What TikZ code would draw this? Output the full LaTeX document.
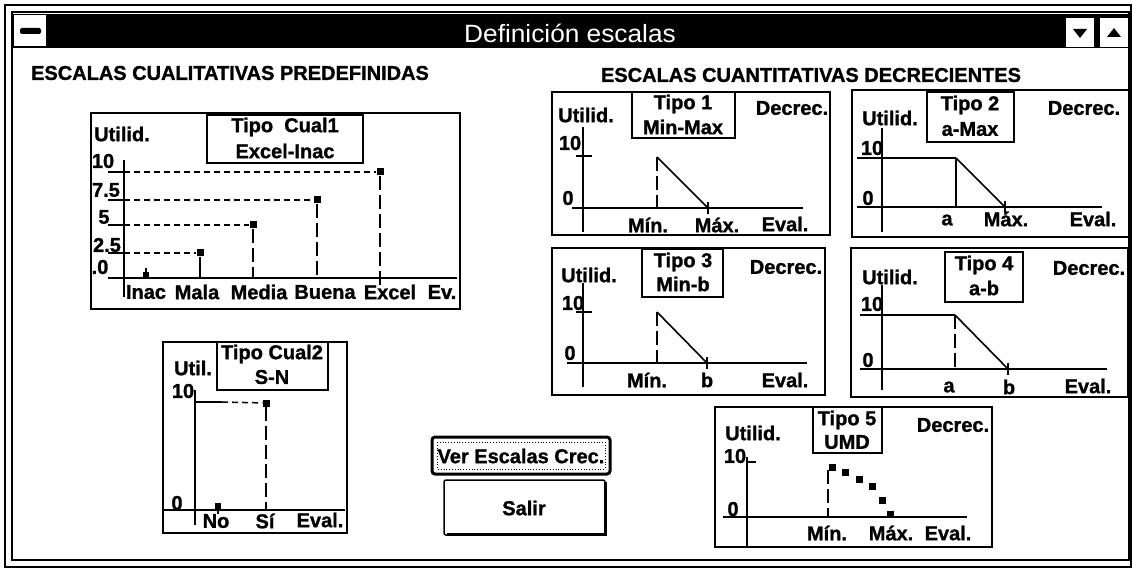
\documentclass[tikz,border=0pt]{standalone}
\usepackage{fontspec}
\newfontfamily\pf{Liberation Sans}[UprightFont=* Bold, FakeBold=1.2]
\newfontfamily\tf{Liberation Sans}[FakeStretch=1.05]
\begin{document}
\begin{tikzpicture}[x=1pt,y=-1pt,
  lbl/.style={font=\pf\fontsize{20}{22}\selectfont, inner sep=0pt, anchor=center},
  frame/.style={draw, line width=1.6pt},
  ax/.style={line width=1.6pt},
  dsh/.style={line width=1.5pt, dash pattern=on 6pt off 4pt},
  ldsh/.style={line width=1.5pt, dash pattern=on 14pt off 5pt},
  sq/.style={fill, rectangle, minimum size=7pt, inner sep=0pt}]
\useasboundingbox (0,0) rectangle (1132,569);
\fill[white] (0,0) rectangle (1132,569);
% window frame
\draw[line width=1.8pt] (5,5) rectangle (1131,567);
\draw[line width=1.2pt] (12,12) rectangle (1129,560);
\fill[black] (12,14) rectangle (1129,48);
\draw[fill=white, line width=1pt] (13,15) rectangle (46,47);
\fill[black, rounded corners=2pt] (20,28) rectangle (41,34);
\draw[fill=white, line width=1pt] (1065,18) rectangle (1094,48);
\fill[black] (1073,29) -- (1087,29) -- (1080,38) -- cycle;
\draw[fill=white, line width=1pt] (1099,18) rectangle (1128,48);
\fill[black] (1107,37) -- (1121,37) -- (1114,28) -- cycle;
\node[font=\tf\fontsize{25}{27}\selectfont, text=white, inner sep=0pt] (title) at (570,33) {Definición escalas};
% headers
\node[lbl] (h1) at (230,73) {ESCALAS CUALITATIVAS PREDEFINIDAS};
\node[lbl] (h2) at (811,75) {ESCALAS CUANTITATIVAS DECRECIENTES};

% ===== Cual1 panel =====
\draw[frame] (91,113) rectangle (460,309);
\draw[frame] (207,115) rectangle (363,163);
\node[lbl] (c1t1) at (285,127) {Tipo\ \ Cual1};
\node[lbl] (c1t2) at (285,151) {Excel-Inac};
\node[lbl] (c1u) at (122,134) {Utilid.};
\draw[ax] (124,160) -- (124,297);
\draw[ax] (108,278) -- (457,278);
\node[lbl] (c1y10) at (103,161) {10};
\node[lbl] (c1y75) at (106,190) {7.5};
\node[lbl] (c1y5) at (104,217) {5};
\node[lbl] (c1y25) at (107,245) {2.5};
\node[lbl] (c1y0) at (100,267) {.0};
\node[sq, minimum size=6pt] (pInac) at (146,275) {};
\node[sq] (pMala) at (200,253) {};
\node[sq] (pMedia) at (253,225) {};
\node[sq] (pBuena) at (317,200) {};
\node[sq] (pExcel) at (380,172) {};
\draw[ax] (108,172) -- (124,172); \draw[dsh] (124,172) -- (pExcel);
\draw[ax] (108,200) -- (124,200); \draw[dsh] (124,200) -- (pBuena);
\draw[ax] (108,225) -- (124,225); \draw[dsh] (124,225) -- (pMedia);
\draw[ax] (108,253) -- (124,253); \draw[dsh] (124,253) -- (pMala);
\draw[ax] (146,268) -- (pInac);
\draw[ax] (pMala) -- (200,278);
\draw[ldsh] (pMedia) -- (253,278);
\draw[ldsh] (pBuena) -- (317,278);
\draw[ldsh] (pExcel) -- (380,285);
\node[lbl] (lInac) at (146,292) {Inac};
\node[lbl] (lMala) at (197,292) {Mala};
\node[lbl] (lMedia) at (259,292) {Media};
\node[lbl] (lBuena) at (325,292) {Buena};
\node[lbl] (lExcel) at (390,292) {Excel};
\node[lbl] (lEv) at (442,292) {Ev.};

% ===== Cual2 panel =====
\draw[frame] (163,342) rectangle (347,533);
\draw[frame] (217,342) rectangle (328,390);
\node[lbl] (c2t1) at (272,354) {Tipo Cual2};
\node[lbl] (c2t2) at (272,377) {S-N};
\node[lbl] (c2u) at (193,368) {Util.};
\draw[ax] (195,390) -- (195,525);
\draw[ax] (163,510) -- (345,510);
\node[lbl] (c2y10) at (183,391) {10};
\node[lbl] (c2y0) at (177,503) {0};
\node[sq] (pSi) at (266,403) {};
\node[sq, minimum size=6pt] (pNo) at (218,506) {};
\draw[ax] (195,402) -- (222,402); \draw[dsh] (222,402) -- (pSi);
\draw[ldsh] (pSi) -- (266,510);
\draw[ax] (pNo) -- (218,514);
\node[lbl] (lNo) at (216,521) {No};
\node[lbl] (lSi) at (265,521) {Sí};
\node[lbl] (lEval2) at (320,520) {Eval.};

% ===== Tipo 1 =====
\draw[frame] (552,92) rectangle (830,235);
\draw[frame] (632,92) rectangle (735,138);
\node[lbl] (t1a) at (683,104) {Tipo 1};
\node[lbl] (t1b) at (683,127) {Min-Max};
\node[lbl] (t1u) at (586,115) {Utilid.};
\node[lbl] (t1d) at (792,108) {Decrec.};
\draw[ax] (583,127) -- (583,232);
\draw[ax] (572,208) -- (803,208);
\node[lbl] (t1y10) at (570,143) {10};
\node[lbl] (t1y0) at (568,198) {0};
\draw[ax] (576,156) -- (592,156);
\coordinate (t1min) at (657,157);
\coordinate (t1max) at (708,208);
\draw[ldsh] (t1min) -- (657,208);
\draw[ax] (t1min) -- (t1max);
\draw[ax] (708,202) -- (708,214);
\node[lbl] (t1l1) at (648,225) {Mín.};
\node[lbl] (t1l2) at (717,225) {Máx.};
\node[lbl] (t1l3) at (785,224) {Eval.};

% ===== Tipo 2 =====
\draw[frame] (852,90) rectangle (1129,237);
\draw[frame] (927,92) rectangle (1014,142);
\node[lbl] (t2a) at (970,105) {Tipo 2};
\node[lbl] (t2b) at (970,129) {a-Max};
\node[lbl] (t2u) at (890,118) {Utilid.};
\node[lbl] (t2d) at (1084,108) {Decrec.};
\draw[ax] (882,128) -- (882,232);
\draw[ax] (857,207) -- (1102,207);
\node[lbl] (t2y10) at (872,148) {10};
\node[lbl] (t2y0) at (868,198) {0};
\coordinate (t2a0) at (956,158);
\coordinate (t2max) at (1005,207);
\draw[ax] (857,158) -- (t2a0);
\draw[ax] (t2a0) -- (956,207);
\draw[ax] (t2a0) -- (t2max);
\draw[ax] (1005,201) -- (1005,213);
\node[lbl] (t2l1) at (947,220) {a};
\node[lbl] (t2l2) at (1006,219) {Máx.};
\node[lbl] (t2l3) at (1093,219) {Eval.};

% ===== Tipo 3 =====
\draw[frame] (552,248) rectangle (825,395);
\draw[frame] (642,249) rectangle (723,297);
\node[lbl] (t3a) at (683,262) {Tipo 3};
\node[lbl] (t3b) at (683,284) {Min-b};
\node[lbl] (t3u) at (589,275) {Utilid.};
\node[lbl] (t3d) at (786,267) {Decrec.};
\draw[ax] (583,283) -- (583,387);
\draw[ax] (567,363) -- (807,363);
\node[lbl] (t3y10) at (573,303) {10};
\node[lbl] (t3y0) at (570,353) {0};
\draw[ax] (576,312) -- (592,312);
\coordinate (t3min) at (657,312);
\coordinate (t3b0) at (707,363);
\draw[ldsh] (t3min) -- (657,363);
\draw[ax] (t3min) -- (t3b0);
\draw[ax] (707,357) -- (707,369);
\node[lbl] (t3l1) at (647,380) {Mín.};
\node[lbl] (t3l2) at (707,380) {b};
\node[lbl] (t3l3) at (785,380) {Eval.};

% ===== Tipo 4 =====
\draw[frame] (851,248) rectangle (1128,397);
\draw[frame] (945,252) rectangle (1023,302);
\node[lbl] (t4a) at (984,265) {Tipo 4};
\node[lbl] (t4b) at (984,288) {a-b};
\node[lbl] (t4u) at (890,277) {Utilid.};
\node[lbl] (t4d) at (1089,268) {Decrec.};
\draw[ax] (882,285) -- (882,390);
\draw[ax] (860,369) -- (1107,369);
\node[lbl] (t4y10) at (872,304) {10};
\node[lbl] (t4y0) at (868,360) {0};
\coordinate (t4a0) at (955,315);
\coordinate (t4b0) at (1008,369);
\draw[ax] (860,315) -- (t4a0);
\draw[ldsh] (t4a0) -- (955,369);
\draw[ax] (t4a0) -- (t4b0);
\draw[ax] (1008,363) -- (1008,375);
\node[lbl] (t4l1) at (949,387) {a};
\node[lbl] (t4l2) at (1009,387) {b};
\node[lbl] (t4l3) at (1088,386) {Eval.};

% ===== Tipo 5 =====
\draw[frame] (715,407) rectangle (992,547);
\draw[frame] (813,407) rectangle (882,453);
\node[lbl] (t5a) at (847,420) {Tipo 5};
\node[lbl] (t5b) at (847,442) {UMD};
\node[lbl] (t5u) at (753,433) {Utilid.};
\node[lbl] (t5d) at (953,425) {Decrec.};
\draw[ax] (747,457) -- (747,547);
\draw[ax] (723,517) -- (967,517);
\node[lbl] (t5y10) at (735,456) {10};
\node[lbl] (t5y0) at (733,509) {0};
\draw[ax] (747,462) -- (756,462);
\node[sq] (u1) at (832,467) {};
\node[sq] (u2) at (845,472) {};
\node[sq] (u3) at (859,479) {};
\node[sq] (u4) at (872,486) {};
\node[sq] (u5) at (882,500) {};
\node[sq] (u6) at (890,514) {};
\draw[ldsh] (828,470) -- (828,517);
\node[lbl] (t5l1) at (827,533) {Mín.};
\node[lbl] (t5l2) at (891,533) {Máx.};
\node[lbl] (t5l3) at (948,533) {Eval.};

% ===== Buttons =====
\draw[line width=3pt, rounded corners=3pt] (432,437) rectangle (610,474);
\draw[line width=0.8pt, dotted] (437,442) rectangle (605,469);
\node[lbl] (bver) at (521,456) {Ver Escalas Crec.};
\draw[line width=1.5pt, rounded corners=2pt] (444,480) rectangle (605,535);
\draw[line width=3pt] (447,534) -- (605,534) -- (605,482);
\node[lbl] (bsal) at (524,508) {Salir};
\end{tikzpicture}
\end{document}
